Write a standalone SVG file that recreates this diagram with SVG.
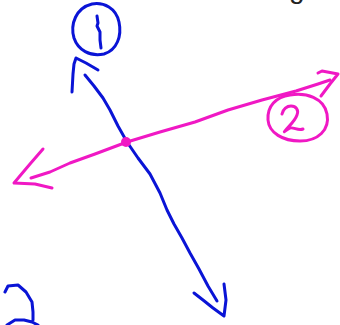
<svg xmlns="http://www.w3.org/2000/svg" width="340" height="325" viewBox="0 0 340 325">
<style>
.b{fill:none;stroke:#0a14d6;stroke-width:3;stroke-linecap:round;stroke-linejoin:round}
.p{fill:none;stroke:#f018c4;stroke-width:3;stroke-linecap:round;stroke-linejoin:round}
</style>
<rect width="340" height="325" fill="#fff"/>
<text x="289" y="-2" font-family="Liberation Sans, sans-serif" font-size="28" fill="#222">g</text>
<g id="node1">
<path class="b" d="M92,4 C104,2 116,8 119,22 C122,36 117,50 104,54 C90,57 78,50 74,38 C70,24 76,8 92,4 Z"/>
<path class="b" d="M97,16 L98,23 L97,26 L100,32 L100,40 L101,48"/>
</g>
<g id="node2">
<path class="p" d="M290,95 C306,92 324,98 327,114 C330,130 318,141 300,141 C283,141 269,133 268,120 C267,106 276,97 290,95"/>
<path class="p" d="M282,114 C283,109 287,106 291,106 C296,106 299,110 297,115 C295,121 289,126 285,131 C283,133 286,130 290,128 C294,127 298,131 303,129"/>
</g>
<g id="node3">
<path class="b" d="M5,292 L8,286 L18,285 L26,292 L32,302 L33,312 L33,320 M7,325 L15,320 L24,320 L32,322 L38,325"/>
</g>
<g id="connectors">
<path class="b" d="M72,92 L73,74 L74,64 L76,58 L86,63 L98,70"/>
<path class="b" d="M85,75 L94,86 L103,98 L110,110 L118,126 L127,142 L138,158 L150,174 L160,193 L167,210 L174,224 L182,238 L190,253 L199,269 L208,286 L217,301"/>
<path class="b" d="M194,293 L203,300 L213,308 L224,316 L226,300 L224,284"/>
<path class="p" d="M31,178 L50,172 L70,163 L95,154 L127,142 L160,132 L195,122 L228,110 L262,100 L296,91 L318,84 L330,80"/>
<path class="p" d="M43,149 L30,164 L14,183 L35,184 L52,188"/>
<path class="p" d="M318,73 L322,71 L338,74 L330,84 L321,96"/>
<circle cx="126" cy="142" r="5" fill="#f018c4"/>
</g>
</svg>
